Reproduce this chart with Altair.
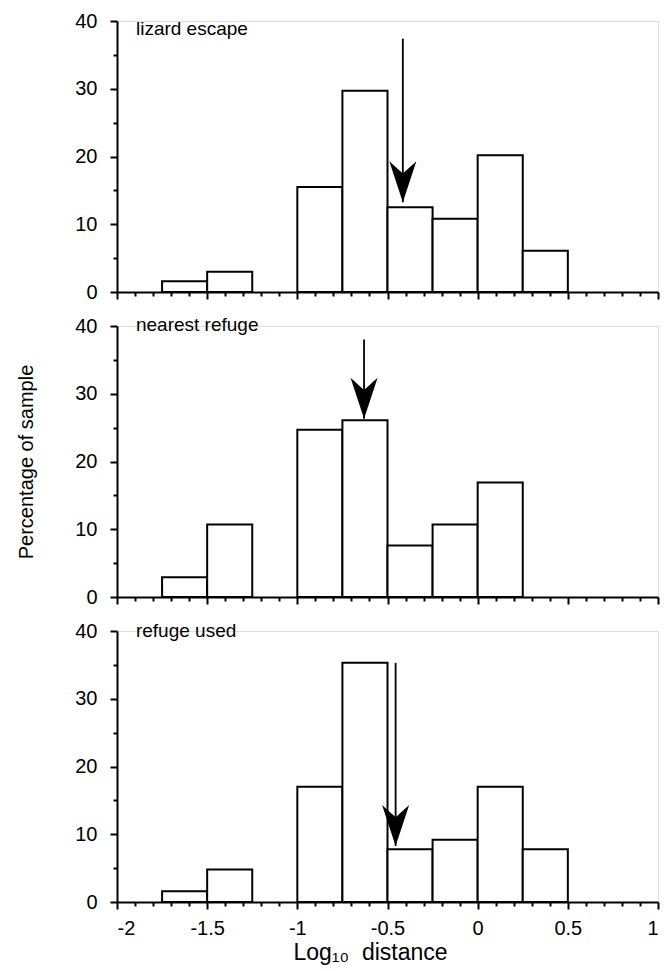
import altair as alt
import pandas as pd

# ---------------- data ----------------
bin_start = [-1.75, -1.5, -1.25, -1.0, -0.75, -0.5, -0.25, 0.0, 0.25]
bin_end = [-1.5, -1.25, -1.0, -0.75, -0.5, -0.25, 0.0, 0.25, 0.5]
pct_escape = [1.6, 3.0, 0, 15.5, 29.7, 12.5, 10.8, 20.2, 6.1]
pct_nearest = [2.9, 10.7, 0, 24.7, 26.1, 7.6, 10.7, 16.9, 0]
pct_used = [1.6, 4.8, 0, 17.0, 35.3, 7.8, 9.2, 17.0, 7.8]

panel_labels = ["lizard escape", "nearest refuge", "refuge used"]
label_x = [-1.895, -1.895, -1.895]
label_y = [38.0, 39.2, 39.1]

arrow_x = [-0.415, -0.63, -0.455]
arrow_top = [37.4, 38.0, 35.3]
arrow_tip = [13.25, 26.3, 8.27]

x_major = [-2, -1.5, -1, -0.5, 0, 0.5, 1]
x_minor = [-1.9, -1.8, -1.7, -1.6, -1.4, -1.3, -1.2, -1.1, -0.9, -0.8, -0.7, -0.6,
           -0.4, -0.3, -0.2, -0.1, 0.1, 0.2, 0.3, 0.4, 0.6, 0.7, 0.8, 0.9]
y_major = [0, 10, 20, 30, 40]
y_minor = [5, 15, 25, 35]

x_title = "Log\u2081\u2080\u00a0 distance"
y_title_text = "Percentage of sample"

FONT = "Liberation Sans"
HEAD = "M0,1L-0.66,-1L0,-0.4L0.66,-1Z"

AX = dict(domainColor="black", domainWidth=2, tickColor="black", tickWidth=2,
          labelColor="black", titleColor="black", labelFont=FONT, titleFont=FONT,
          grid=False, zindex=1)


def panel(i, values, show_x_labels, y_title):
    bars_df = pd.DataFrame({"start": bin_start, "end": bin_end, "pct": values})
    bars_df = bars_df[bars_df["pct"] > 0]
    arrow_df = pd.DataFrame({"ax": [arrow_x[i]], "top": [arrow_top[i]], "tip": [arrow_tip[i]]})
    label_df = pd.DataFrame({"lx": [label_x[i]], "ly": [label_y[i]], "txt": [panel_labels[i]]})

    xs = alt.Scale(domain=[-2, 1], nice=False, zero=False)
    ys = alt.Scale(domain=[0, 40], nice=False)

    x_extra = {}
    if show_x_labels:
        x_extra = dict(title=x_title, titleFontSize=23, titleFontWeight="normal",
                       titlePadding=3, titleX=253, titleAlign="center")
    else:
        x_extra = dict(title=None)
    x_axis = alt.Axis(
        orient="bottom", values=x_major, labels=show_x_labels, tickSize=7,
        labelExpr="'' + datum.value", labelPadding=9, labelFontSize=20,
        **x_extra, **AX,
    )
    y_extra = {}
    if y_title:
        y_extra = dict(title=y_title, titleFontSize=20, titleFontWeight="normal",
                       titlePadding=38)
    else:
        y_extra = dict(title=None)
    y_axis = alt.Axis(
        orient="left", values=y_major, tickSize=7, labelPadding=13, labelFontSize=20,
        labelExpr="'' + datum.value", **y_extra, **AX,
    )
    x_axis_minor = alt.Axis(
        orient="bottom", values=x_minor, labels=False, tickSize=4, domain=False,
        title=None, **AX,
    )
    y_axis_minor = alt.Axis(
        orient="left", values=y_minor, labels=False, tickSize=4, domain=False,
        title=None, **AX,
    )

    bars = alt.Chart(bars_df).mark_rect(fill="white", stroke="black", strokeWidth=2).encode(
        x=alt.X("start:Q", scale=xs, axis=x_axis),
        x2="end:Q",
        y=alt.Y("pct:Q", scale=ys, axis=y_axis),
        y2=alt.datum(0),
    )
    shaft = alt.Chart(arrow_df).mark_rule(color="black", strokeWidth=1.8).encode(
        x=alt.X("ax:Q", scale=xs, axis=x_axis_minor),
        y=alt.Y("top:Q", scale=ys, axis=y_axis_minor),
        y2="tip:Q",
    )
    head = alt.Chart(arrow_df).mark_point(
        shape=HEAD, size=1681, filled=True, fill="black", strokeWidth=0,
        opacity=1, yOffset=-20.5,
    ).encode(
        x=alt.X("ax:Q", scale=xs, axis=None),
        y=alt.Y("tip:Q", scale=ys, axis=None),
    )
    label = alt.Chart(label_df).mark_text(
        align="left", baseline="alphabetic", font=FONT, fontSize=19, color="black",
    ).encode(
        x=alt.X("lx:Q", scale=xs, axis=None),
        y=alt.Y("ly:Q", scale=ys, axis=None),
        text="txt:N",
    )
    return alt.layer(bars, shaft, head, label).resolve_axis(
        x="independent", y="independent"
    ).properties(width=541, height=271)


p1 = panel(0, pct_escape, False, None)
p2 = panel(1, pct_nearest, False, y_title_text)
p3 = panel(2, pct_used, True, None)

chart = alt.vconcat(p1, p2, p3, spacing=12).properties(
    padding={"left": 16, "top": 10, "right": 5, "bottom": 5}
).configure_view(stroke=None).configure(background="white")

chart.save("out.html", embed_options={"renderer": "svg", "actions": False})
